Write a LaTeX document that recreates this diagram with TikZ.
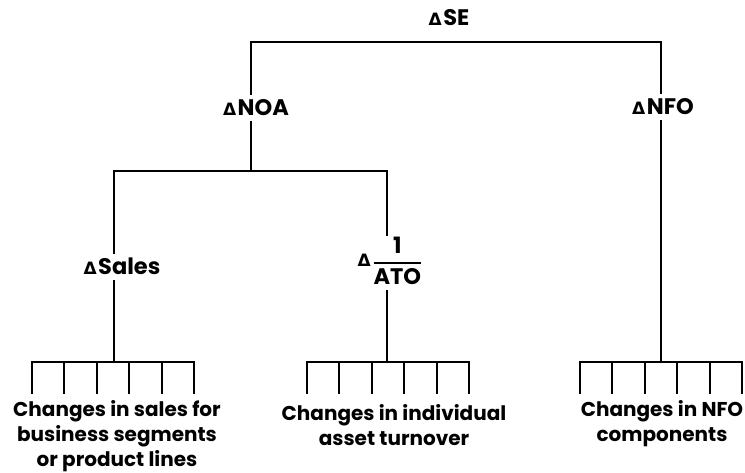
\documentclass[tikz,border=0pt]{standalone}
\usepackage{amsmath}
\usepackage{fontspec}
\setmainfont{Poppins}
\newfontfamily\deltafont{DejaVu Sans}
\newcommand\dlt{{\deltafont\bfseries\fontsize{17}{17}\selectfont Δ}\kern1.5pt}
\tikzset{
  link/.style={line width=1.4pt, line cap=rect},
  lbl/.style={font=\fontsize{22.5}{26}\selectfont\bfseries, inner sep=0pt, fill=white,
              text height=16pt, text depth=1pt, outer sep=5pt},
  note/.style={font=\fontsize{20}{25}\selectfont\bfseries, align=center, inner sep=0pt}
}
\begin{document}
\begin{tikzpicture}[x=1pt, y=-1pt]
  \useasboundingbox (0,0) rectangle (745,473);

  % level 0
  \node[lbl] (se) at (449,18) {\dlt SE};
  \coordinate (topL) at (251,42);
  \coordinate (topR) at (661,42);
  \draw[link] (topL) -- (topR);

  % level 1
  \node[lbl] (noa) at (256,108) {\dlt NOA};
  \node[lbl] (nfo) at (663,107) {\dlt NFO};
  \coordinate (midL) at (114,171);
  \coordinate (midR) at (387,171);
  \draw[link] (topL) -- (topL |- noa.north);
  \draw[link] (topL |- noa.south) -- (251,171);
  \draw[link] (midL) -- (midR);
  \draw[link] (topR) -- (topR |- nfo.north);

  % level 2
  \node[lbl] (sales) at (122,267) {\dlt Sales};
  \node[lbl, text height=28pt, text depth=18pt] (ato) at (390,263)
    {\raisebox{1pt}{\dlt}$\genfrac{}{}{1.7pt}{0}{\text{\bfseries 1}}{\text{\bfseries ATO}}$};
  \draw[link] (midL) -- (midL |- sales.north);
  \draw[link] (midR) -- (midR |- ato.north);

  % junctions above the combs
  \coordinate (jA) at (114,362);
  \coordinate (jB) at (387,362);
  \coordinate (jC) at (661,362);
  \draw[link] (midL |- sales.south) -- (jA);
  \draw[link] (midR |- ato.south) -- (jB);
  \draw[link] (topR |- nfo.south) -- (jC);

  % combs of six branches
  \foreach \c/\s in {jA/32, jB/307, jC/580} {
    \draw[link] (\s,362) -- (\s+162,362);
    \foreach \i in {0,...,5} {
      \pgfmathsetmacro\tx{\s+round(\i*32.4)}
      \draw[link] (\tx,362) -- (\tx,393);
    }
  }

  % leaf descriptions
  \node[note] (leafA) at (117,436) {Changes in sales for\\business segments\\or product lines};
  \node[note] (leafB) at (394,425) {Changes in individual\\asset turnover};
  \node[note] (leafC) at (662,424) {Changes in NFO\\components};
\end{tikzpicture}
\end{document}
